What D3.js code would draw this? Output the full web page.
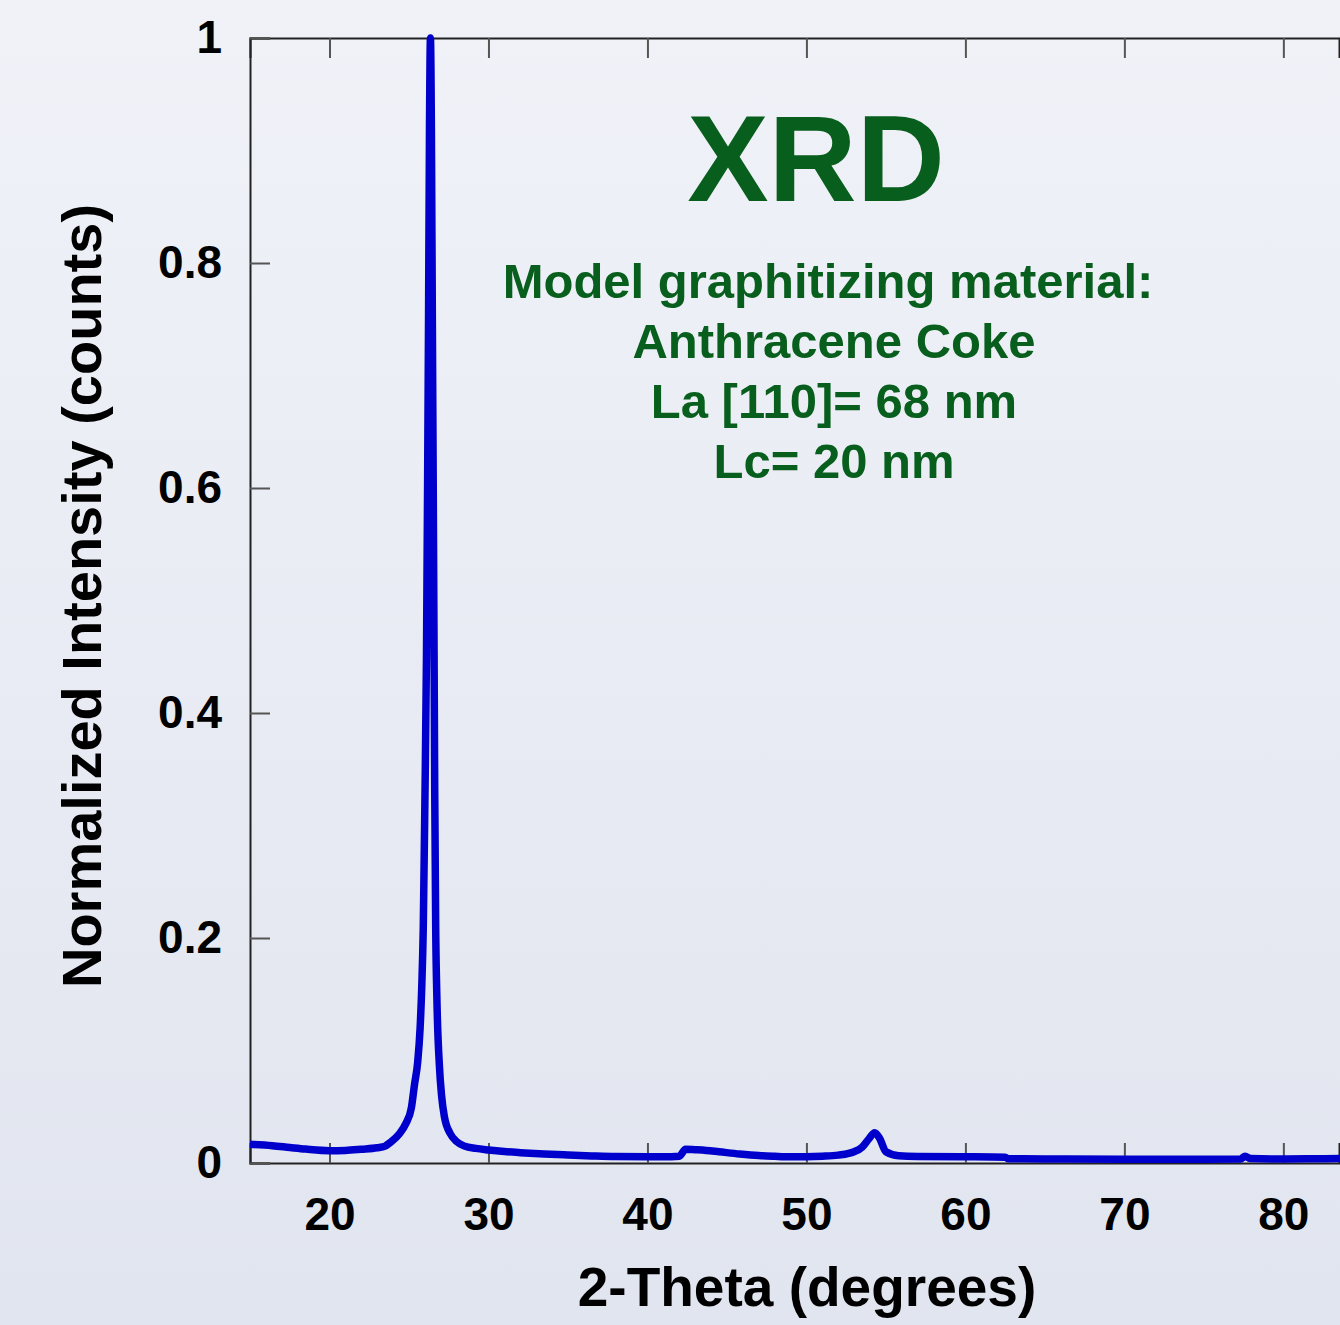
<!DOCTYPE html>
<html>
<head>
<meta charset="utf-8">
<script src="https://cdn.jsdelivr.net/npm/d3@7"></script>
<style>
  html, body { margin: 0; padding: 0; }
  body { width: 1340px; height: 1325px; overflow: hidden; }
  text { font-family: "Liberation Sans", Arial, sans-serif; font-weight: bold; }
</style>
</head>
<body>
<div id="chart"></div>
<script>
// XRD pattern
var twoTheta = [15.0, 16.4, 17.5, 18.5, 20.0, 21.0, 22.0, 23.0, 23.5, 23.8, 24.4, 24.8, 25.15, 25.35, 25.55,
  25.7, 25.8, 25.9, 26.0, 26.1, 26.17, 26.23, 26.29, 26.35, 26.41, 26.47, 26.53, 26.58, 26.62, 26.68,
  26.75, 26.92, 27.05, 27.23, 27.6, 28.0, 28.5, 29.2, 30.0, 31.0, 32.0, 33.5, 35.0, 36.5, 38.0, 40.0,
  41.5, 42.0, 42.4, 43.0, 43.7, 44.5, 45.8, 47.0, 48.0, 49.0, 50.0, 51.0, 52.0, 53.0, 53.5, 53.9, 54.3,
  54.6, 55.0, 55.8, 57.0, 60.0, 62.5, 62.7, 65.0, 70.0, 75.0, 77.3, 77.6, 77.9, 80.0, 81.5, 83.6];
var intensity = [0.0166, 0.0154, 0.0138, 0.0124, 0.0110, 0.0112, 0.0122, 0.0135, 0.0150, 0.0180, 0.0260, 0.0350, 0.0490, 0.0700, 0.0900,
  0.120, 0.155, 0.21, 0.32, 0.45, 0.60, 0.75, 0.92, 1.00, 0.92, 0.75, 0.59, 0.45, 0.33, 0.21,
  0.15, 0.085, 0.060, 0.041, 0.026, 0.019, 0.015, 0.013, 0.0116, 0.0102, 0.0092, 0.0080, 0.0071, 0.0063, 0.0057, 0.0055,
  0.0056, 0.0060, 0.0122, 0.0118, 0.0112, 0.0100, 0.0080, 0.0066, 0.0060, 0.0056, 0.0056, 0.0060, 0.0070, 0.0100, 0.0140, 0.0210, 0.0270,
  0.0220, 0.0100, 0.0065, 0.0058, 0.0056, 0.0052, 0.0038, 0.0036, 0.0034, 0.0033, 0.0035, 0.0060, 0.0040, 0.0035, 0.0037, 0.0040];

var xTicks = [20, 30, 40, 50, 60, 70, 80];
var yTicks = [0, 0.2, 0.4, 0.6, 0.8, 1];
var infoLines = ["Model graphitizing material:", "Anthracene Coke", "La [110]= 68 nm", "Lc= 20 nm"];

var svgWidth = 1340;
var svgHeight = 1325;
var margin = { top: 38, right: 1, bottom: 162, left: 250 };
var width = svgWidth - margin.left - margin.right;
var height = svgHeight - margin.top - margin.bottom;

var svg = d3.select("#chart")
  .append("svg")
  .attr("width", svgWidth)
  .attr("height", svgHeight);

// background gradient
var grad = svg.append("defs").append("linearGradient")
  .attr("id", "bg")
  .attr("x1", 0).attr("y1", 0).attr("x2", 0).attr("y2", 1);
grad.append("stop").attr("offset", "0%").attr("stop-color", "#f0f2f8");
grad.append("stop").attr("offset", "100%").attr("stop-color", "#e1e5ef");
svg.append("rect")
  .attr("width", svgWidth)
  .attr("height", svgHeight)
  .attr("fill", "url(#bg)");

var chartGroup = svg.append("g")
  .attr("transform", `translate(${margin.left}, ${margin.top})`);

var xScale = d3.scaleLinear().domain([15, 83.5]).range([0, width]);
var yScale = d3.scaleLinear().domain([0, 1]).range([height, 0]);

// axes, ticks pointing inside
var bottomAxis = d3.axisBottom(xScale).tickValues(xTicks).tickSize(-20).tickPadding(34).tickFormat(d3.format("d"));
var topAxis = d3.axisTop(xScale).tickValues(xTicks).tickSize(-20).tickFormat("");
var leftAxis = d3.axisLeft(yScale).tickValues(yTicks).tickSize(-20).tickPadding(28).tickFormat(d => d === 0 || d === 1 ? d3.format("d")(d) : d3.format(".1f")(d));

var gx = chartGroup.append("g")
  .attr("transform", `translate(0, ${height})`)
  .call(bottomAxis);
var gt = chartGroup.append("g").call(topAxis);
var gy = chartGroup.append("g").call(leftAxis);

[gx, gt, gy].forEach(function(g) {
  g.select(".domain").attr("stroke", "#222").attr("stroke-width", 2);
  g.selectAll(".tick line").attr("stroke", "#555").attr("stroke-width", 2);
  g.selectAll(".tick text")
    .attr("fill", "#000")
    .attr("font-size", "46px")
    .attr("font-family", "Liberation Sans, Arial, sans-serif")
    .attr("font-weight", "bold");
});

// the data line
var line = d3.line()
  .x((d, i) => xScale(twoTheta[i]))
  .y(d => yScale(d))
  .curve(d3.curveMonotoneX);

chartGroup.append("path")
  .datum(intensity)
  .attr("d", line)
  .attr("fill", "none")
  .attr("stroke", "#0000cc")
  .attr("stroke-width", 7.5)
  .attr("stroke-linejoin", "round");

// axis titles
svg.append("text")
  .attr("x", 807)
  .attr("y", 1306)
  .attr("text-anchor", "middle")
  .attr("font-size", "55px")
  .attr("fill", "#000")
  .text("2-Theta (degrees)");

svg.append("text")
  .attr("transform", "translate(101, 596) rotate(-90)")
  .attr("text-anchor", "middle")
  .attr("font-size", "56px")
  .attr("fill", "#000")
  .text("Normalized Intensity (counts)");

// annotation
svg.append("text")
  .attr("x", 816)
  .attr("y", 201)
  .attr("text-anchor", "middle")
  .attr("font-size", "122px")
  .attr("fill", "#085e1c")
  .text("XRD");

svg.append("g")
  .selectAll("text")
  .data(infoLines)
  .enter()
  .append("text")
  .attr("x", (d, i) => i === 0 ? 828 : 834)
  .attr("y", (d, i) => 298 + i * 60)
  .attr("text-anchor", "middle")
  .attr("font-size", "49px")
  .attr("fill", "#085e1c")
  .text(d => d);
</script>
</body>
</html>
